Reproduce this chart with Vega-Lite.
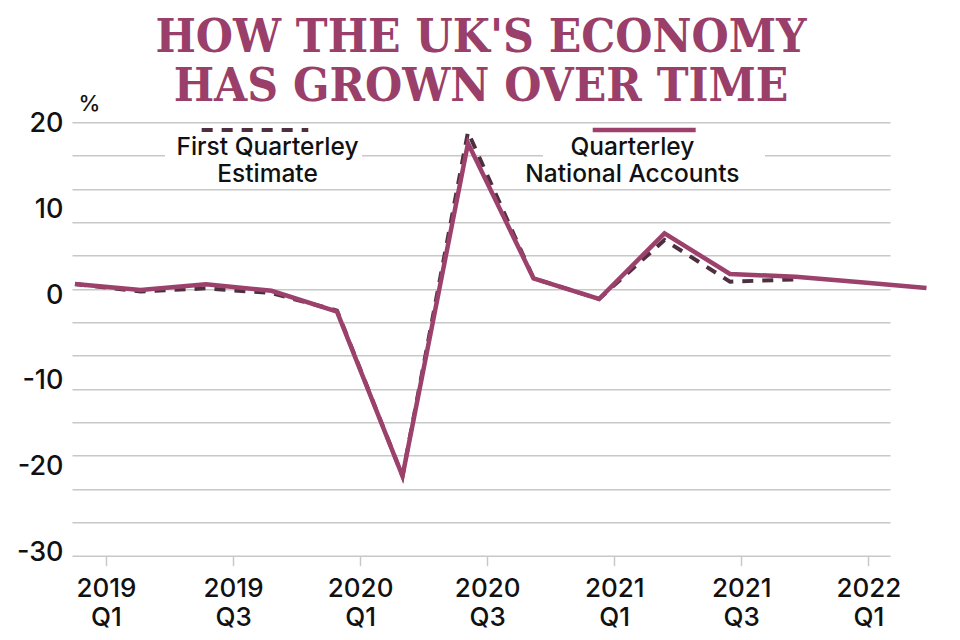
{
  "$schema": "https://vega.github.io/schema/vega-lite/v6.json",
  "autosize": "none",
  "width": 818,
  "height": 433.4,
  "padding": {"left": 72, "top": 122.3, "right": 70, "bottom": 84.3},
  "background": "white",
  "config": {"view": {"stroke": null}},
  "title": {
    "text": ["HOW THE UK'S ECONOMY", "HAS GROWN OVER TIME"],
    "font": "DejaVu Serif Condensed",
    "fontWeight": "bold",
    "fontSize": 47.5,
    "lineHeight": 48.5,
    "color": "#9a3f69",
    "anchor": "middle",
    "offset": 0,
    "dy": 18
  },
  "data": {
    "values": [
      {"q": 0, "quarter": "2019 Q1", "series": "Quarterly National Accounts", "value": 1.29},
      {"q": 1, "quarter": "2019 Q2", "series": "Quarterly National Accounts", "value": 0.59},
      {"q": 2, "quarter": "2019 Q3", "series": "Quarterly National Accounts", "value": 1.26},
      {"q": 3, "quarter": "2019 Q4", "series": "Quarterly National Accounts", "value": 0.51},
      {"q": 4, "quarter": "2020 Q1", "series": "Quarterly National Accounts", "value": -1.93},
      {"q": 5, "quarter": "2020 Q2", "series": "Quarterly National Accounts", "value": -21.07},
      {"q": 6, "quarter": "2020 Q3", "series": "Quarterly National Accounts", "value": 17.68},
      {"q": 7, "quarter": "2020 Q4", "series": "Quarterly National Accounts", "value": 1.96},
      {"q": 8, "quarter": "2021 Q1", "series": "Quarterly National Accounts", "value": -0.45},
      {"q": 9, "quarter": "2021 Q2", "series": "Quarterly National Accounts", "value": 7.2},
      {"q": 10, "quarter": "2021 Q3", "series": "Quarterly National Accounts", "value": 2.46},
      {"q": 11, "quarter": "2021 Q4", "series": "Quarterly National Accounts", "value": 2.14},
      {"q": 12, "quarter": "2022 Q1", "series": "Quarterly National Accounts", "value": 1.49},
      {"q": 13, "quarter": "2022 Q2", "series": "Quarterly National Accounts", "value": 0.83},
      {"q": 0, "quarter": "2019 Q1", "series": "First Quarterly Estimate", "value": 1.29},
      {"q": 1, "quarter": "2019 Q2", "series": "First Quarterly Estimate", "value": 0.42},
      {"q": 2, "quarter": "2019 Q3", "series": "First Quarterly Estimate", "value": 0.79},
      {"q": 3, "quarter": "2019 Q4", "series": "First Quarterly Estimate", "value": 0.24},
      {"q": 4, "quarter": "2020 Q1", "series": "First Quarterly Estimate", "value": -1.8},
      {"q": 5, "quarter": "2020 Q2", "series": "First Quarterly Estimate", "value": -21.07},
      {"q": 6, "quarter": "2020 Q3", "series": "First Quarterly Estimate", "value": 19.0},
      {"q": 7, "quarter": "2020 Q4", "series": "First Quarterly Estimate", "value": 1.96},
      {"q": 8, "quarter": "2021 Q1", "series": "First Quarterly Estimate", "value": -0.45},
      {"q": 9, "quarter": "2021 Q2", "series": "First Quarterly Estimate", "value": 6.42},
      {"q": 10, "quarter": "2021 Q3", "series": "First Quarterly Estimate", "value": 1.56},
      {"q": 11, "quarter": "2021 Q4", "series": "First Quarterly Estimate", "value": 1.84}
    ]
  },
  "resolve": {"axis": {"y": "independent"}},
  "layer": [
    {
      "transform": [{"filter": "datum.series === 'First Quarterly Estimate'"}],
      "mark": {"type": "line", "color": "#4e2f3f", "strokeWidth": 4, "strokeDash": [11, 9], "clip": false},
      "encoding": {
        "x": {
          "field": "q", "type": "quantitative",
          "scale": {"domain": [-0.0458, 12.4427], "nice": false, "zero": false},
          "axis": {
            "values": [0.4733, 2.413, 4.3527, 6.2924, 8.2321, 10.1718, 12.1115],
            "labelExpr": "[['2019','Q1'],['2019','Q3'],['2020','Q1'],['2020','Q3'],['2021','Q1'],['2021','Q3'],['2022','Q1']][round((datum.value-0.4733)/1.9397)]",
            "title": null,
            "grid": false,
            "domain": true,
            "domainColor": "#c8c8c8",
            "domainWidth": 1.5,
            "ticks": true,
            "tickColor": "#c8c8c8",
            "tickWidth": 1.5,
            "tickSize": 10,
            "labelFont": "Inter",
            "labelFontWeight": 500,
            "labelFontSize": 26,
            "labelLineHeight": 29,
            "labelColor": "#111111",
            "labelPadding": 10,
            "labelOverlap": false,
            "labelFlush": false
          }
        },
        "y": {
          "field": "value", "type": "quantitative",
          "scale": {"domain": [-30.36, 20.135], "nice": false, "zero": false},
          "axis": {
            "orient": "left",
            "values": [20.126, 16.243, 12.36, 8.478, 4.595, 0.712, -3.171, -7.054, -10.936, -14.819, -18.702, -22.585, -26.468],
            "labels": false,
            "grid": true,
            "gridColor": "#c8c8c8",
            "gridWidth": 1.5,
            "domain": false,
            "ticks": false,
            "title": null
          }
        }
      }
    },
    {
      "transform": [{"filter": "datum.series === 'Quarterly National Accounts'"}],
      "mark": {"type": "line", "color": "#9c416b", "strokeWidth": 4.5, "clip": false},
      "encoding": {
        "x": {"field": "q", "type": "quantitative"},
        "y": {
          "field": "value", "type": "quantitative",
          "axis": {
            "orient": "left",
            "values": [20, 10, 0, -10, -20, -30],
            "labelExpr": "'' + datum.value",
            "grid": false,
            "domain": false,
            "ticks": false,
            "labelFont": "Inter",
            "labelFontWeight": 500,
            "labelFontSize": 27,
            "labelColor": "#111111",
            "labelPadding": 9,
            "labelOverlap": false,
            "labelFlush": false,
            "title": "%",
            "titleAngle": 0,
            "titleX": 17,
            "titleY": -19,
            "titleAlign": "center",
            "titleBaseline": "middle",
            "titleFont": "Inter",
            "titleFontWeight": 500,
            "titleFontSize": 22,
            "titleColor": "#111111"
          }
        }
      }
    },
    {
      "data": {"values": [{}]},
      "mark": {"type": "rect", "fill": "white"},
      "encoding": {
        "x": {"datum": 1.374, "type": "quantitative"},
        "x2": {"datum": 4.382},
        "y": {"datum": 18.3, "type": "quantitative", "axis": null},
        "y2": {"datum": 12.71}
      }
    },
    {
      "data": {"values": [{}]},
      "mark": {"type": "rect", "fill": "white"},
      "encoding": {
        "x": {"datum": 7.145, "type": "quantitative"},
        "x2": {"datum": 10.534},
        "y": {"datum": 18.3, "type": "quantitative", "axis": null},
        "y2": {"datum": 12.71}
      }
    },
    {
      "data": {"values": [{}]},
      "mark": {"type": "rule", "color": "#4e2f3f", "strokeWidth": 4, "strokeDash": [11, 9]},
      "encoding": {
        "x": {"datum": 1.934, "type": "quantitative"},
        "x2": {"datum": 3.562},
        "y": {"datum": 19.23, "type": "quantitative", "axis": null}
      }
    },
    {
      "data": {"values": [{}]},
      "mark": {"type": "rule", "color": "#9c416b", "strokeWidth": 4.5},
      "encoding": {
        "x": {"datum": 7.904, "type": "quantitative"},
        "x2": {"datum": 9.476},
        "y": {"datum": 19.23, "type": "quantitative", "axis": null}
      }
    },
    {
      "data": {"values": [{}]},
      "mark": {"type": "text", "text": ["First Quarterley", "Estimate"], "align": "center", "baseline": "middle", "font": "Inter", "fontWeight": 500, "fontSize": 24.5, "lineHeight": 27, "color": "#111111"},
      "encoding": {
        "x": {"datum": 2.939, "type": "quantitative"},
        "y": {"datum": 17.1, "type": "quantitative", "axis": null}
      }
    },
    {
      "data": {"values": [{}]},
      "mark": {"type": "text", "text": ["Quarterley", "National Accounts"], "align": "center", "baseline": "middle", "font": "Inter", "fontWeight": 500, "fontSize": 24.5, "lineHeight": 27, "color": "#111111"},
      "encoding": {
        "x": {"datum": 8.51, "type": "quantitative"},
        "y": {"datum": 17.1, "type": "quantitative", "axis": null}
      }
    }
  ]
}
